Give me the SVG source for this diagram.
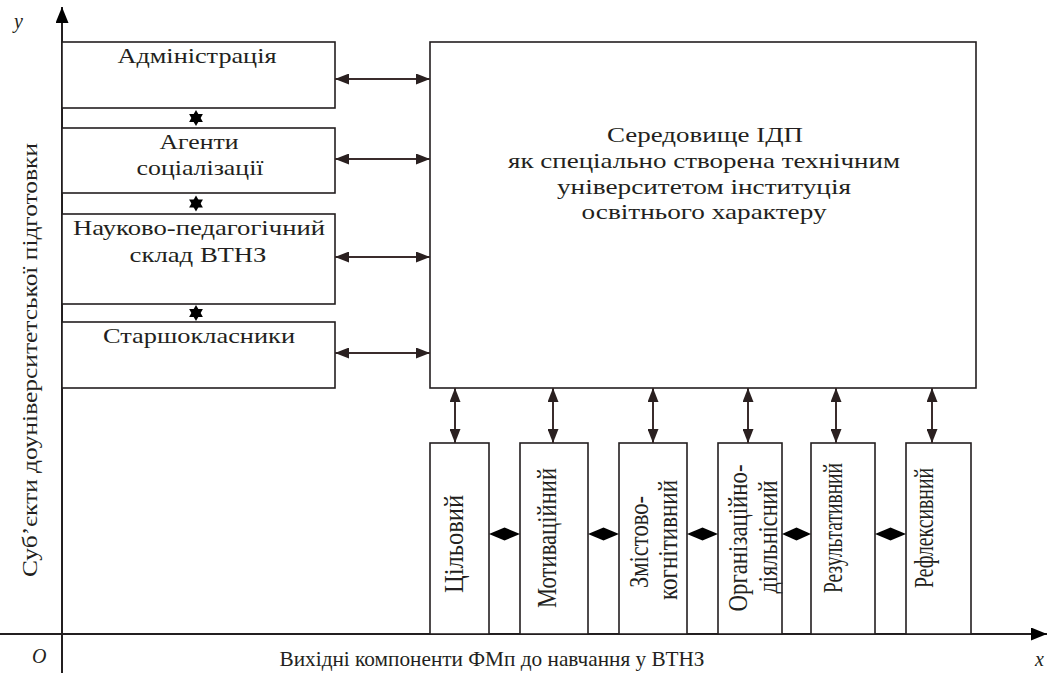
<svg xmlns="http://www.w3.org/2000/svg" width="1048" height="673" viewBox="0 0 1048 673">
<style>
  .box { fill: #ffffff; stroke: #231f20; stroke-width: 1.6; }
  .t { font-family: "Liberation Serif", "Times New Roman", serif; font-size: 22px; fill: #231f20; text-anchor: middle; }
  .v { font-size: 28px; }
  .it { font-family: "Liberation Serif", "Times New Roman", serif; font-style: italic; font-size: 20px; fill: #231f20; }
  .conn { stroke: #3a2c2c; stroke-width: 2; fill: none; }
  .axis { stroke: #231f20; stroke-width: 2; fill: none; }
  .knot { fill: #000000; }
</style>
<defs>
  <marker id="ah" markerUnits="userSpaceOnUse" markerWidth="14" markerHeight="11" refX="14" refY="5.5" orient="auto-start-reverse">
    <path d="M0,0 L14,5.5 L0,11 z" fill="#2a2020"/>
  </marker>
  <marker id="axh" markerUnits="userSpaceOnUse" markerWidth="16" markerHeight="13" refX="16" refY="6.5" orient="auto">
    <path d="M0,0 L16,6.5 L0,13 z" fill="#000000"/>
  </marker>
</defs>
<rect width="1048" height="673" fill="#ffffff"/>

<g id="axes">
  <line class="axis" x1="62" y1="673" x2="62" y2="7" marker-end="url(#axh)"/>
  <line class="axis" x1="0" y1="634" x2="1047" y2="634" marker-end="url(#axh)"/>
  <text class="it" x="14" y="28">y</text>
  <text class="it" x="32" y="663">O</text>
  <text class="it" x="1035" y="666">x</text>
  <text class="t" transform="translate(37,360) rotate(-90)" font-size="26" textLength="434" lengthAdjust="spacingAndGlyphs">Суб’єкти доуніверситетської підготовки</text>
  <text class="t" x="492" y="666" font-size="25" textLength="425" lengthAdjust="spacingAndGlyphs">Вихідні компоненти ФМп до навчання у ВТНЗ</text>
</g>

<g id="admin">
  <rect class="box" x="62" y="42" width="273" height="66"/>
  <text class="t" x="197" y="63" textLength="159" lengthAdjust="spacingAndGlyphs">Адміністрація</text>
</g>
<g id="agents">
  <rect class="box" x="62" y="128" width="273" height="65"/>
  <text class="t" x="199" y="149" textLength="79" lengthAdjust="spacingAndGlyphs">Агенти</text>
  <text class="t" x="200" y="175" textLength="127" lengthAdjust="spacingAndGlyphs">соціалізації</text>
</g>
<g id="staff">
  <rect class="box" x="62" y="214" width="273" height="90"/>
  <text class="t" x="199" y="235" textLength="252" lengthAdjust="spacingAndGlyphs">Науково-педагогічний</text>
  <text class="t" x="198" y="262" textLength="137" lengthAdjust="spacingAndGlyphs">склад ВТНЗ</text>
</g>
<g id="seniors">
  <rect class="box" x="62" y="322" width="273" height="66"/>
  <text class="t" x="199" y="343" textLength="192" lengthAdjust="spacingAndGlyphs">Старшокласники</text>
</g>

<g id="environment">
  <rect class="box" x="430" y="42" width="546" height="346"/>
  <text class="t" x="705" y="142" textLength="196" lengthAdjust="spacingAndGlyphs">Середовище ІДП</text>
  <text class="t" x="704" y="168" textLength="392" lengthAdjust="spacingAndGlyphs">як спеціально створена технічним</text>
  <text class="t" x="704" y="194" textLength="294" lengthAdjust="spacingAndGlyphs">університетом інституція</text>
  <text class="t" x="704" y="219" textLength="245" lengthAdjust="spacingAndGlyphs">освітнього характеру</text>
</g>

<g id="c1">
  <rect class="box" x="430" y="443" width="59" height="191"/>
  <text class="t v" transform="translate(463,544) rotate(-90)" textLength="98" lengthAdjust="spacingAndGlyphs">Цільовий</text>
</g>
<g id="c2">
  <rect class="box" x="520" y="443" width="68" height="191"/>
  <text class="t v" transform="translate(556,538) rotate(-90)" textLength="140" lengthAdjust="spacingAndGlyphs">Мотиваційний</text>
</g>
<g id="c3">
  <rect class="box" x="619" y="443" width="68" height="191"/>
  <text class="t v" transform="translate(648,542) rotate(-90)" textLength="92" lengthAdjust="spacingAndGlyphs">Змістово-</text>
  <text class="t v" transform="translate(677,540) rotate(-90)" textLength="120" lengthAdjust="spacingAndGlyphs">когнітивний</text>
</g>
<g id="c4">
  <rect class="box" x="718" y="443" width="64" height="191"/>
  <text class="t v" transform="translate(747,538) rotate(-90)" textLength="147" lengthAdjust="spacingAndGlyphs">Організаційно-</text>
  <text class="t v" transform="translate(777,537) rotate(-90)" textLength="113" lengthAdjust="spacingAndGlyphs">діяльнісний</text>
</g>
<g id="c5">
  <rect class="box" x="811" y="443" width="64" height="191"/>
  <text class="t v" transform="translate(842,528) rotate(-90)" textLength="130" lengthAdjust="spacingAndGlyphs">Результативний</text>
</g>
<g id="c6">
  <rect class="box" x="906" y="443" width="65" height="191"/>
  <text class="t v" transform="translate(933,528) rotate(-90)" textLength="120" lengthAdjust="spacingAndGlyphs">Рефлексивний</text>
</g>

<g id="connectors">
  <line class="conn" x1="335" y1="79" x2="430" y2="79" marker-start="url(#ah)" marker-end="url(#ah)"/>
  <line class="conn" x1="335" y1="159" x2="430" y2="159" marker-start="url(#ah)" marker-end="url(#ah)"/>
  <line class="conn" x1="335" y1="257" x2="430" y2="257" marker-start="url(#ah)" marker-end="url(#ah)"/>
  <line class="conn" x1="335" y1="353" x2="430" y2="353" marker-start="url(#ah)" marker-end="url(#ah)"/>

  <line class="conn" x1="455" y1="388" x2="455" y2="443" marker-start="url(#ah)" marker-end="url(#ah)"/>
  <line class="conn" x1="553" y1="388" x2="553" y2="443" marker-start="url(#ah)" marker-end="url(#ah)"/>
  <line class="conn" x1="653" y1="388" x2="653" y2="443" marker-start="url(#ah)" marker-end="url(#ah)"/>
  <line class="conn" x1="748" y1="388" x2="748" y2="443" marker-start="url(#ah)" marker-end="url(#ah)"/>
  <line class="conn" x1="836" y1="388" x2="836" y2="443" marker-start="url(#ah)" marker-end="url(#ah)"/>
  <line class="conn" x1="932" y1="388" x2="932" y2="443" marker-start="url(#ah)" marker-end="url(#ah)"/>

  <polygon class="knot" points="196,110 202.9,122 189.1,122"/>
  <polygon class="knot" points="196,126 202.9,114 189.1,114"/>
  <polygon class="knot" points="196,195.5 202.9,207.5 189.1,207.5"/>
  <polygon class="knot" points="196,211.5 202.9,199.5 189.1,199.5"/>
  <polygon class="knot" points="196,305 202.9,317 189.1,317"/>
  <polygon class="knot" points="196,321 202.9,309 189.1,309"/>

  <polygon class="knot" points="489,534 504.5,527.5 520,534 504.5,540.5"/>
  <polygon class="knot" points="588,534 603.5,527.5 619,534 603.5,540.5"/>
  <polygon class="knot" points="687,534 702.5,527.5 718,534 702.5,540.5"/>
  <polygon class="knot" points="782,534 796.5,527.5 811,534 796.5,540.5"/>
  <polygon class="knot" points="875,534 890.5,527.5 906,534 890.5,540.5"/>
</g>
</svg>
